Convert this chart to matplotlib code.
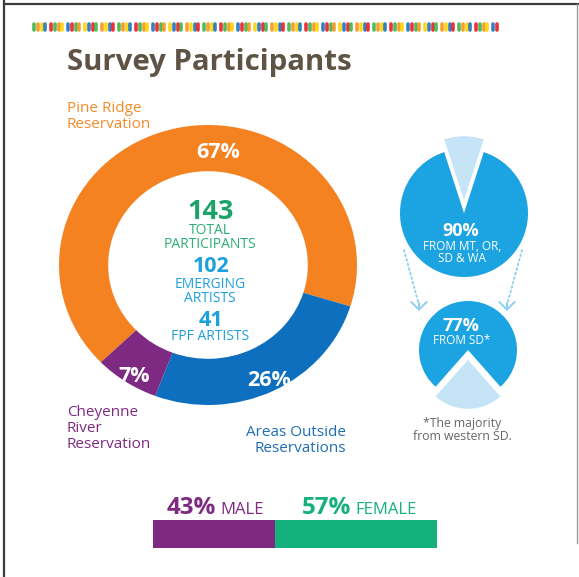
import numpy as np
import matplotlib
matplotlib.use("Agg")
import matplotlib.pyplot as plt

W, H, DPI = 579, 577, 100

# Where participants live
regions = ["Pine Ridge\nReservation", "Areas Outside\nReservations", "Cheyenne\nRiver\nReservation"]
region_pct = [67, 26, 7]
region_colors = ["#F58220", "#0F6FBF", "#7E2A82"]

# Participant counts
total_participants = 143
emerging_artists = 102
fpf_artists = 41

# Regional breakdown
regional_pct = 90      # from MT, OR, SD & WA
sd_pct = 77            # from SD

# Gender split
gender = ["MALE", "FEMALE"]
gender_pct = [43, 57]
gender_colors = ["#7E2A81", "#14B17C"]

FONT = "Open Sans"
plt.rcParams["font.family"] = [FONT, "DejaVu Sans"]

fig = plt.figure(figsize=(W / DPI, H / DPI), dpi=DPI)
fig.patch.set_facecolor("white")


def px_axes(x0, y0, x1, y1, z=1):
    ax = fig.add_axes([x0 / W, 1 - y1 / H, (x1 - x0) / W, (y1 - y0) / H], zorder=z)
    ax.set_axis_off()
    return ax


# overlay in pixel coordinates for text and decoration
ov = px_axes(0, 0, W, H, z=5)
ov.set_xlim(0, W)
ov.set_ylim(H, 0)
ov.patch.set_alpha(0)

# frame
ov.plot([4, 4], [0, H], color="#3c3c3c", lw=1.6, solid_capstyle="butt")
ov.plot([4, W], [4, 4], color="#3c3c3c", lw=1.6, solid_capstyle="butt")
ov.plot([577, 577], [4, 543], color="#9a9a9a", lw=1.0)

# decorative coloured strip
strip_cols = ["#3DB54A", "#F7941D", "#FFD200", "#1C75BC", "#ED1C24"]
xs, k, x = [], 0, 34.0
while x < 500:
    xs.append(x)
    k += 1
    x += 3.8 if k % 4 else 5.6
for i, xx in enumerate(xs):
    ov.plot([xx, xx], [24, 30], color=strip_cols[i % len(strip_cols)], lw=2.6,
            solid_capstyle="round", alpha=0.9)

# title
ov.text(67, 70, "Survey Participants", fontsize=21.2, fontweight="bold",
        color="#5E5344", ha="left", va="baseline")

# ---- donut ----
ax_d = px_axes(59, 125, 357, 405, z=2)
ax_d.pie(region_pct, colors=region_colors, startangle=224, counterclock=False,
         radius=1, wedgeprops=dict(width=0.33, linewidth=0))
ax_d.set_aspect("auto")
ax_d.set_xlim(-1, 1)
ax_d.set_ylim(-1, 1)

pct_pos = [(218, 152), (269, 381), (134, 376)]
for p, (px, py) in zip(region_pct, pct_pos):
    ov.text(px, py, f"{p}%", fontsize=15.5, fontweight="bold", color="white",
            ha="center", va="center")

# region names
lab_fs = 11
ov.text(67, 109, "Pine Ridge", fontsize=lab_fs, color="#F58A2A", ha="left", va="center")
ov.text(67, 125, "Reservation", fontsize=lab_fs, color="#F58A2A", ha="left", va="center")
for s, yy in zip(regions[2].split("\n"), [413, 429, 445]):
    ov.text(67, yy, s, fontsize=lab_fs, color="#7E2A82", ha="left", va="center")
for s, yy in zip(regions[1].split("\n"), [432, 448]):
    ov.text(346, yy, s, fontsize=lab_fs, color="#1C6DB5", ha="right", va="center")

# centre counts
green_t = "#1BA36A"
blue_t = "#1DA1DE"
cap_fs = 10
ov.text(211, 212, f"{total_participants}", fontsize=19.5, fontweight="bold", color=green_t,
        ha="center", va="center")
ov.text(210, 231, "TOTAL", fontsize=cap_fs, color="#2BAE78", ha="center", va="center")
ov.text(210, 245, "PARTICIPANTS", fontsize=cap_fs, color="#2BAE78", ha="center", va="center")
ov.text(211, 267, f"{emerging_artists}", fontsize=15.5, fontweight="bold", color=blue_t,
        ha="center", va="center")
ov.text(210, 284, "EMERGING", fontsize=cap_fs, color=blue_t, ha="center", va="center")
ov.text(210, 298, "ARTISTS", fontsize=cap_fs, color=blue_t, ha="center", va="center")
ov.text(211, 320, f"{fpf_artists}", fontsize=15.5, fontweight="bold", color=blue_t,
        ha="center", va="center")
ov.text(210, 337, "FPF ARTISTS", fontsize=cap_fs, color=blue_t, ha="center", va="center")

# ---- right-hand pies ----
dark_b = "#1BA3E2"
light_b = "#C5E5F6"


def pie_axes(cx, cy, r, pad=1.4):
    ax = px_axes(cx - r * pad, cy - r * pad, cx + r * pad, cy + r * pad, z=2)
    return ax


ax1 = pie_axes(464, 213, 64)
rest1 = 100 - regional_pct
ax1.pie([regional_pct, rest1], colors=[dark_b, light_b],
        startangle=90 + 360 * rest1 / 200, explode=[0, 0.2],
        wedgeprops=dict(linewidth=0), radius=1)
ax1.set_xlim(-1.4, 1.4)
ax1.set_ylim(-1.4, 1.4)

ax2 = pie_axes(468, 350, 49)
rest2 = 100 - sd_pct
ax2.pie([sd_pct, rest2], colors=[dark_b, light_b],
        startangle=270 + 360 * rest2 / 200, explode=[0, 0.2],
        wedgeprops=dict(linewidth=0), radius=1)
ax2.set_xlim(-1.4, 1.4)
ax2.set_ylim(-1.4, 1.4)

small_fs = 8.5
ov.text(461, 231, f"{regional_pct}%", fontsize=13, fontweight="bold", color="white",
        ha="center", va="center")
ov.text(462, 247, "FROM MT, OR,", fontsize=small_fs, color="white", ha="center", va="center")
ov.text(462, 259, "SD & WA", fontsize=small_fs, color="white", ha="center", va="center")
ov.text(461, 326, f"{sd_pct}%", fontsize=13, fontweight="bold", color="white",
        ha="center", va="center")
ov.text(462, 341, "FROM SD*", fontsize=small_fs, color="white", ha="center", va="center")

ov.text(462, 424, "*The majority", fontsize=8.8, color="#666666", ha="center", va="center")
ov.text(462, 437, "from western SD.", fontsize=8.8, color="#666666", ha="center", va="center")

# dotted connectors
arrow_c = "#8CCFF0"
for (x0, y0), (x1, y1) in [((404, 250), (419, 305)), ((522, 250), (507, 305))]:
    ov.annotate("", xy=(x1, y1), xytext=(x0, y0),
                arrowprops=dict(arrowstyle="-", color=arrow_c, lw=1.3,
                                linestyle=(0, (1, 1.6)), shrinkA=0, shrinkB=0))
    ov.annotate("", xy=(x1, y1 + 6), xytext=(x1, y1 - 2),
                arrowprops=dict(arrowstyle="->,head_length=0.55,head_width=0.55",
                                color=arrow_c, lw=1.4, shrinkA=0, shrinkB=0))

# ---- gender bar ----
ax_g = px_axes(153, 520, 437, 548, z=2)
left = 0
for p, c in zip(gender_pct, gender_colors):
    ax_g.barh(0, p, left=left, height=1, color=c, linewidth=0)
    left += p
ax_g.set_xlim(0, 100)
ax_g.set_ylim(-0.5, 0.5)

ov.text(167, 514, f"{gender_pct[0]}%", fontsize=17.5, fontweight="bold",
        color=gender_colors[0], ha="left", va="baseline")
ov.text(220, 514, gender[0], fontsize=12, color=gender_colors[0], ha="left", va="baseline")
ov.text(302, 514, f"{gender_pct[1]}%", fontsize=17.5, fontweight="bold",
        color=gender_colors[1], ha="left", va="baseline")
ov.text(355, 514, gender[1], fontsize=12, color=gender_colors[1], ha="left", va="baseline")

fig.savefig("out.png", dpi=DPI, facecolor="white")
